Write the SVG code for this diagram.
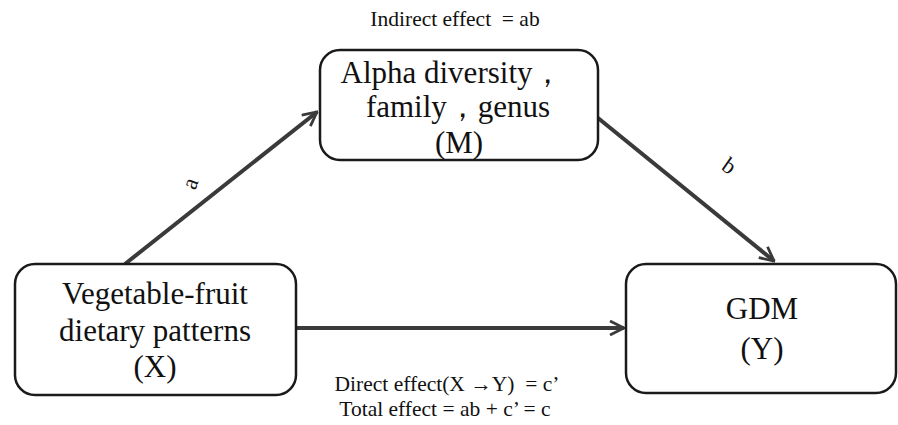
<svg xmlns="http://www.w3.org/2000/svg" width="898" height="425" viewBox="0 0 898 425">
  <style>
    text { font-family: "Liberation Serif", "Times New Roman", serif; fill: #111; text-anchor: middle; white-space: pre; }
    .box { fill: #ffffff; stroke: #1a1a1a; stroke-width: 2.5; }
    .node { font-size: 31px; }
    .note { font-size: 21.5px; }
    .lbl { font-size: 23px; }
    .edge { stroke: #3a3a3a; stroke-width: 4; fill: none; }
  </style>
  <defs>
    <marker id="arrow" viewBox="0 0 12 12" refX="11" refY="6" markerWidth="4.2" markerHeight="4.2" orient="auto" markerUnits="strokeWidth">
      <path d="M1,1 L11,6 L1,11" fill="none" stroke="#3a3a3a" stroke-width="2"/>
    </marker>
  </defs>
  <rect width="898" height="425" fill="#ffffff"/>

  <text class="note" x="455" y="26" xml:space="preserve">Indirect effect  = ab</text>

  <g id="connectors">
    <line class="edge" x1="125" y1="264" x2="317" y2="112" marker-end="url(#arrow)"/>
    <line class="edge" x1="598" y1="118" x2="774" y2="261" marker-end="url(#arrow)"/>
    <line class="edge" x1="296" y1="328" x2="624" y2="328" marker-end="url(#arrow)"/>
    <text class="lbl" transform="translate(197,186) rotate(-70)">a</text>
    <text class="lbl" transform="translate(725,172) rotate(35)">b</text>
  </g>

  <g id="node-m">
    <rect class="box" x="320" y="50" width="278" height="110" rx="20"/>
    <text class="node" x="452" y="83">Alpha diversity，</text>
    <text class="node" x="458" y="117">family，genus</text>
    <text class="node" x="459" y="153">(M)</text>
  </g>

  <g id="node-x">
    <rect class="box" x="15" y="264" width="281" height="131" rx="20"/>
    <text class="node" x="155" y="304">Vegetable-fruit</text>
    <text class="node" x="155" y="341">dietary patterns</text>
    <text class="node" x="155" y="377">(X)</text>
  </g>

  <g id="node-y">
    <rect class="box" x="626" y="264" width="270" height="129" rx="20"/>
    <text class="node" x="762" y="319">GDM</text>
    <text class="node" x="762" y="359">(Y)</text>
  </g>

  <text class="note" x="447" y="391" xml:space="preserve">Direct effect(X →Y)  = c’</text>
  <text class="note" x="445" y="416">Total effect = ab + c’ = c</text>
</svg>
